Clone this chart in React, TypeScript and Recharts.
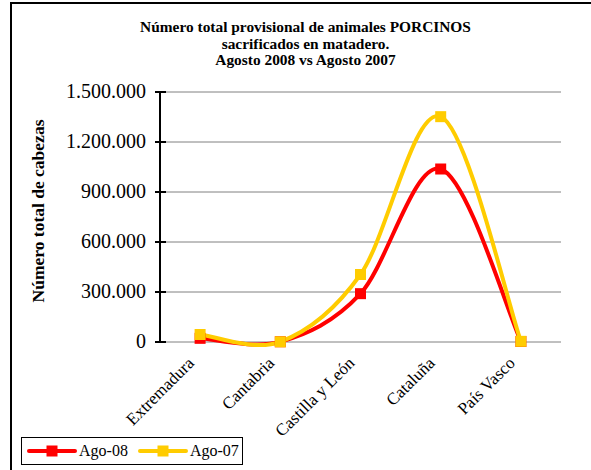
import React from "react";
import {
  LineChart,
  Line,
  XAxis,
  YAxis,
  CartesianGrid,
} from "recharts";

const regions = ["Extremadura", "Cantabria", "Castilla y León", "Cataluña", "País Vasco"];
const ago08 = [22000, 1500, 290000, 1038000, 3000];
const ago07 = [45000, 1200, 405000, 1352000, 4000];
const yTicks = [0, 300000, 600000, 900000, 1200000, 1500000];
const bandTicks = [0, 1, 2, 3, 4, 5];
const centerTicks = [0.5, 1.5, 2.5, 3.5, 4.5];

const RED = "#FF0000";
const YELLOW = "#FFCC00";
const FONT = "'Liberation Serif', 'Times New Roman', serif";

const data = regions.map((name, i) => ({
  pos: i + 0.5,
  name,
  ago08: ago08[i],
  ago07: ago07[i],
}));

// Excel-style smoothed line (Catmull-Rom with 1/6 control points)
const excelSmooth = (context: any) => {
  let pts: [number, number][] = [];
  return {
    areaStart() {},
    areaEnd() {},
    lineStart() {
      pts = [];
    },
    point(x: number, y: number) {
      pts.push([+x, +y]);
    },
    lineEnd() {
      if (!pts.length) return;
      context.moveTo(pts[0][0], pts[0][1]);
      for (let i = 0; i < pts.length - 1; i++) {
        const p0 = pts[Math.max(i - 1, 0)];
        const p1 = pts[i];
        const p2 = pts[i + 1];
        const p3 = pts[Math.min(i + 2, pts.length - 1)];
        context.bezierCurveTo(
          p1[0] + (p2[0] - p0[0]) / 6,
          p1[1] + (p2[1] - p0[1]) / 6,
          p2[0] - (p3[0] - p1[0]) / 6,
          p2[1] - (p3[1] - p1[1]) / 6,
          p2[0],
          p2[1]
        );
      }
    },
  };
};

function fmt(v: number) {
  return String(v).replace(/\B(?=(\d{3})+(?!\d))/g, ".");
}

function squareDot(color: string) {
  return (props: any) => {
    const { cx, cy, index } = props;
    if (cx == null || cy == null) return <g key={index} />;
    return <rect key={index} x={cx - 5.5} y={cy - 5.5} width={11} height={11} fill={color} />;
  };
}

function YTick(props: any) {
  const { x, y, payload } = props;
  return (
    <g>
      <line x1={x + 8} x2={x + 19} y1={y} y2={y} stroke="#000" strokeWidth={2} />
      <text x={x - 1} y={y} dy={6} textAnchor="end" fontSize={20} fontFamily={FONT} fill="#000">
        {fmt(payload.value)}
      </text>
    </g>
  );
}

function XTick(props: any) {
  const { x, y, payload } = props;
  const label = regions[Math.floor(payload.value)];
  return (
    <g transform={`translate(${x - 12},${y + 7})`}>
      <text textAnchor="end" transform="rotate(-45)" dy={10} fontSize={17} fontFamily={FONT} fill="#000">
        {label}
      </text>
    </g>
  );
}

function LegendBox() {
  const items = [
    { label: "Ago-08", color: RED },
    { label: "Ago-07", color: YELLOW },
  ];
  return (
    <div
      style={{
        position: "absolute",
        left: 21,
        top: 437,
        display: "flex",
        alignItems: "center",
        border: "1px solid #000",
        width: 222,
        height: 28,
        boxSizing: "border-box",
        paddingLeft: 5,
        fontFamily: FONT,
        fontSize: 16,
        color: "#000",
        whiteSpace: "nowrap",
        background: "#fff",
      }}
    >
      {items.map((it) => (
        <div key={it.label} style={{ display: "flex", alignItems: "center", marginRight: 10 }}>
          <svg width={50} height={14}>
            <line x1={2} x2={48} y1={7} y2={7} stroke={it.color} strokeWidth={4} strokeLinecap="round" />
            <rect x={19.5} y={1.5} width={11} height={11} fill={it.color} />
          </svg>
          <span style={{ marginLeft: 2 }}>{it.label}</span>
        </div>
      ))}
    </div>
  );
}

export default function App() {
  return (
    <div style={{ position: "absolute", left: 0, top: 0, width: 591, height: 470, overflow: "hidden", background: "#fff" }}>
      <div
        style={{
          position: "absolute",
          left: 10,
          top: 2,
          width: 600,
          height: 500,
          borderTop: "2px solid #000",
          borderLeft: "2px solid #000",
        }}
      />
      <div
        style={{
          position: "absolute",
          left: 0,
          width: 611,
          top: 19,
          textAlign: "center",
          fontFamily: FONT,
          fontWeight: "bold",
          fontSize: 15.4,
          lineHeight: "16.5px",
          color: "#000",
        }}
      >
        Número total provisional de animales PORCINOS
        <br />
        sacrificados en matadero.
        <br />
        Agosto 2008 vs Agosto 2007
      </div>
      <div
        style={{
          position: "absolute",
          left: 38,
          top: 211,
          transform: "translate(-50%, -50%) rotate(-90deg)",
          whiteSpace: "nowrap",
          fontFamily: FONT,
          fontWeight: "bold",
          fontSize: 17.5,
          color: "#000",
        }}
      >
        Número total de cabezas
      </div>
      <div style={{ position: "absolute", left: 0, top: 0 }}>
        <LineChart
          width={591}
          height={470}
          data={data}
          margin={{ top: 92, right: 30, bottom: 0, left: 0 }}
        >
          <CartesianGrid horizontal vertical={false} stroke="#808080" strokeWidth={1} />
          <XAxis
            xAxisId="band"
            type="number"
            dataKey="pos"
            domain={[0, 5]}
            ticks={bandTicks}
            height={0}
            axisLine={{ stroke: "#808080", strokeWidth: 1 }}
            tickLine={{ stroke: "#808080", strokeWidth: 1 }}
            tickSize={5}
            tick={false}
          />
          <XAxis
            xAxisId="cat"
            type="number"
            dataKey="pos"
            domain={[0, 5]}
            ticks={centerTicks}
            height={128}
            axisLine={false}
            tickLine={false}
            tick={<XTick />}
            interval={0}
          />
          <YAxis
            type="number"
            domain={[0, 1500000]}
            ticks={yTicks}
            width={160}
            axisLine={{ stroke: "#000", strokeWidth: 2 }}
            tickLine={false}
            tickSize={5}
            tickMargin={8}
            tick={<YTick />}
            interval={0}
          />
          <Line
            xAxisId="cat"
            dataKey="ago08"
            name="Ago-08"
            type={excelSmooth as any}
            stroke={RED}
            strokeWidth={4}
            dot={squareDot(RED)}
            activeDot={false}
            isAnimationActive={false}
          />
          <Line
            xAxisId="cat"
            dataKey="ago07"
            name="Ago-07"
            type={excelSmooth as any}
            stroke={YELLOW}
            strokeWidth={4}
            dot={squareDot(YELLOW)}
            activeDot={false}
            isAnimationActive={false}
          />
        </LineChart>
      </div>
      <LegendBox />
    </div>
  );
}
